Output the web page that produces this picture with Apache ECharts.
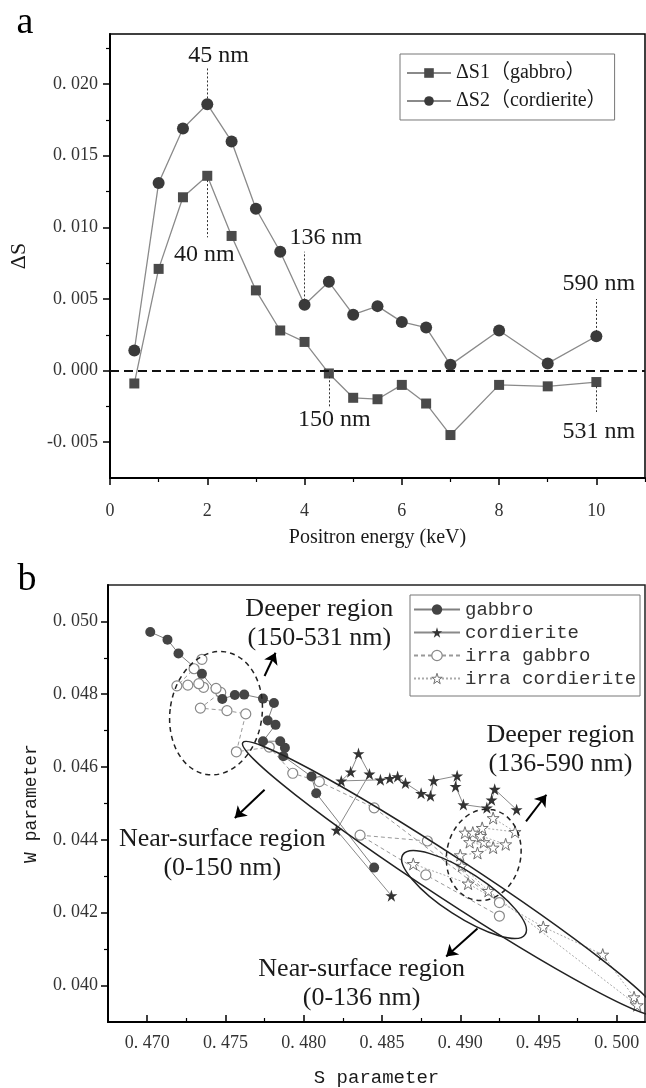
<!DOCTYPE html>
<html>
<head>
<meta charset="utf-8">
<title>ΔS and S-W plots</title>
<script src="https://cdn.jsdelivr.net/npm/echarts@6.0.0/dist/echarts.min.js"></script>
<style>
  html, body { margin: 0; padding: 0; background: #fff; }
  #chart { width: 646px; height: 1088px; }
</style>
</head>
<body>
<div id="chart"></div>
<script>
// ---- panel a: ΔS vs positron energy ----
const energy = [0.5, 1, 1.5, 2, 2.5, 3, 3.5, 4, 4.5, 5, 5.5, 6, 6.5, 7, 8, 9, 10]
const dS1 = [-0.0009, 0.0071, 0.0121, 0.0136, 0.0094, 0.0056, 0.0028, 0.0020, -0.0002, -0.0019, -0.0020, -0.0010, -0.0023, -0.0045, -0.0010, -0.0011, -0.0008]
const dS2 = [0.0014, 0.0131, 0.0169, 0.0186, 0.0160, 0.0113, 0.0083, 0.0046, 0.0062, 0.0039, 0.0045, 0.0034, 0.0030, 0.0004, 0.0028, 0.0005, 0.0024]
const dsTicks = [-0.005, 0, 0.005, 0.010, 0.015, 0.020]
const dsMinorTicks = [-0.0025, 0.0025, 0.0075, 0.0125, 0.0175, 0.0225]
const eTicks = [0, 2, 4, 6, 8, 10]
const eMinorTicks = [1, 3, 5, 7, 9, 11]

// ---- panel b: W vs S ----
const gabbroS = [0.4845, 0.4808, 0.4805, 0.4787, 0.4788, 0.4785, 0.4774, 0.4782, 0.4777, 0.4781, 0.4774, 0.4762, 0.4756, 0.4748, 0.4735, 0.4720, 0.4713, 0.4702]
const gabbroW = [0.04324, 0.04528, 0.04574, 0.04630, 0.04653, 0.04671, 0.04671, 0.04716, 0.04728, 0.04776, 0.04788, 0.04799, 0.04798, 0.04787, 0.04856, 0.04912, 0.04950, 0.04971]
const cordS = [0.4856, 0.4821, 0.4842, 0.4835, 0.4830, 0.4824, 0.4849, 0.4855, 0.4860, 0.4865, 0.4875, 0.4881, 0.4883, 0.4898, 0.4897, 0.4902, 0.4917, 0.4920, 0.4922, 0.4936]
const cordW = [0.04247, 0.04427, 0.04581, 0.04637, 0.04587, 0.04562, 0.04565, 0.04569, 0.04574, 0.04556, 0.04528, 0.04521, 0.04563, 0.04576, 0.04547, 0.04497, 0.04488, 0.04510, 0.04539, 0.04483]
const irraGabbroS = [0.4925, 0.4878, 0.4836, 0.4879, 0.4925, 0.4845, 0.4810, 0.4793, 0.4778, 0.4757, 0.4763, 0.4751, 0.4734, 0.4747, 0.4744, 0.4736, 0.4733, 0.4726, 0.4719, 0.4730, 0.4735]
const irraGabbroW = [0.04191, 0.04304, 0.04413, 0.04397, 0.04228, 0.04488, 0.04560, 0.04583, 0.04655, 0.04642, 0.04746, 0.04755, 0.04762, 0.04805, 0.04816, 0.04819, 0.04829, 0.04825, 0.04823, 0.04870, 0.04896]
const irraCordS = [0.4870, 0.4905, 0.4953, 0.4991, 0.5011, 0.5013, 0.4918, 0.4901, 0.4900, 0.4911, 0.4921, 0.4906, 0.4915, 0.4929, 0.4913, 0.4903, 0.4908, 0.4914, 0.4935, 0.4921]
const irraCordW = [0.04334, 0.04280, 0.04161, 0.04085, 0.03968, 0.03946, 0.04260, 0.04329, 0.04358, 0.04364, 0.04379, 0.04394, 0.04394, 0.04388, 0.04411, 0.04420, 0.04420, 0.04433, 0.04422, 0.04460]
const sTicks = [0.470, 0.475, 0.480, 0.485, 0.490, 0.495, 0.500]
const sMinorTicks = [0.4725, 0.4775, 0.4825, 0.4875, 0.4925, 0.4975]
const wTicks = [0.040, 0.042, 0.044, 0.046, 0.048, 0.050]
const wMinorTicks = [0.041, 0.043, 0.045, 0.047, 0.049]

const pairs = (xs, ys) => xs.map((x, i) => [x, ys[i]])
const serif = '"Liberation Serif", "Noto Sans CJK SC", serif'
const mono = '"Liberation Mono", monospace'
const ink = '#1a1a1a'
const star = 'path://M50,2 L61.8,38.2 L99.9,38.2 L69.1,60.6 L80.9,96.9 L50,74.5 L19.1,96.9 L30.9,60.6 L0.1,38.2 L38.2,38.2 Z'
const fmt3 = v => v.toFixed(3).replace('.', '. ')
const openStar = { color: '#fff', borderColor: '#707070', borderWidth: 1 }
const openCircle = { color: '#fff', borderColor: '#888', borderWidth: 1.2 }

// 主轴 + 次刻度轴（同一个grid叠放）
function axisPair (gridIndex, dim, opts) {
  const main = {
    type: 'value', gridIndex: gridIndex, min: opts.min, max: opts.max,
    position: dim === 'x' ? 'bottom' : 'left',
    name: opts.name, nameLocation: 'middle', nameGap: opts.nameGap,
    nameTextStyle: { fontFamily: opts.nameFont, fontSize: opts.nameSize, color: ink },
    axisLine: { show: true, onZero: false, lineStyle: { color: '#000', width: 2 } },
    axisTick: { show: true, inside: opts.inside, length: 7, customValues: opts.ticks, lineStyle: { color: '#000', width: 1.5 } },
    axisLabel: { customValues: opts.ticks, formatter: opts.fmt, margin: opts.margin, fontFamily: serif, fontSize: 18, color: '#333' },
    splitLine: { show: false }
  }
  const minor = {
    type: 'value', gridIndex: gridIndex, min: opts.min, max: opts.max,
    position: dim === 'x' ? 'bottom' : 'left', offset: 0,
    axisLine: { show: false, onZero: false },
    axisTick: { show: true, inside: opts.inside, length: 4, customValues: opts.minor, lineStyle: { color: '#000', width: 1.2 } },
    axisLabel: { show: false },
    splitLine: { show: false }
  }
  return [main, minor]
}

const option = {
  animation: false,
  backgroundColor: '#fff',
  grid: [
    { left: 108, top: 34, width: 537, height: 444, show: true, borderColor: '#000', borderWidth: 1.5, backgroundColor: 'transparent' },
    { left: 108, top: 585, width: 537, height: 443, show: true, borderColor: '#222', borderWidth: 1.5, backgroundColor: 'transparent' }
  ],
  xAxis: [
    ...axisPair(0, 'x', { min: 0, max: 11, ticks: eTicks, minor: eMinorTicks, inside: false, margin: 24, fmt: v => String(v), name: 'Positron energy (keV)', nameGap: 50, nameFont: serif, nameSize: 20 }),
    ...axisPair(1, 'x', { min: 0.4675, max: 0.5018, ticks: sTicks, minor: sMinorTicks, inside: true, margin: 12, fmt: fmt3, name: 'S parameter', nameGap: 46, nameFont: mono, nameSize: 19 })
  ],
  yAxis: [
    ...axisPair(0, 'y', { min: -0.0075, max: 0.0235, ticks: dsTicks, minor: dsMinorTicks, inside: false, margin: 12, fmt: fmt3, name: 'ΔS', nameGap: 80, nameFont: serif, nameSize: 22 }),
    ...axisPair(1, 'y', { min: 0.039, max: 0.051, ticks: wTicks, minor: wMinorTicks, inside: false, margin: 10, fmt: fmt3, name: 'W parameter', nameGap: 68, nameFont: mono, nameSize: 18 })
  ],
  legend: [
    {
      data: ['ΔS1（gabbro）', 'ΔS2（cordierite）'],
      orient: 'vertical', left: 400, top: 54, itemWidth: 44, itemHeight: 12, itemGap: 8,
      padding: [9, 8, 9, 6], borderColor: '#777', borderWidth: 1,
      textStyle: { fontFamily: serif, fontSize: 20, color: ink }
    },
    {
      data: [
        { name: 'gabbro' },
        { name: 'cordierite' },
        { name: 'irra gabbro', itemStyle: openCircle },
        { name: 'irra cordierite', itemStyle: openStar }
      ],
      orient: 'vertical', left: 410, top: 595, itemWidth: 46, itemHeight: 13, itemGap: 4,
      padding: [5, 4, 8, 3], borderColor: '#777', borderWidth: 1,
      textStyle: { fontFamily: mono, fontSize: 19, color: '#333' }
    }
  ],
  series: [
    {
      name: 'ΔS1（gabbro）', type: 'line', xAxisIndex: 0, yAxisIndex: 0,
      data: pairs(energy, dS1), symbol: 'rect', symbolSize: 10,
      itemStyle: { color: '#4a4a4a' }, lineStyle: { color: '#8a8a8a', width: 1.3 },
      markLine: {
        silent: true, symbol: ['none', 'none'], label: { show: false },
        data: [
          { yAxis: 0, lineStyle: { color: '#111', type: [9, 5], width: 2 } },
          [{ coord: [2, 0.0190] }, { coord: [2, 0.0211] }],
          [{ coord: [2, 0.0133] }, { coord: [2, 0.0093] }],
          [{ coord: [4, 0.0049] }, { coord: [4, 0.0083] }],
          [{ coord: [4.5, -0.0004] }, { coord: [4.5, -0.0025] }],
          [{ coord: [10, 0.0027] }, { coord: [10, 0.0050] }],
          [{ coord: [10, -0.0011] }, { coord: [10, -0.0029] }]
        ],
        lineStyle: { color: '#333', type: [2, 2], width: 1 }
      }
    },
    {
      name: 'ΔS2（cordierite）', type: 'line', xAxisIndex: 0, yAxisIndex: 0,
      data: pairs(energy, dS2), symbol: 'circle', symbolSize: 12,
      itemStyle: { color: '#3a3a3a' }, lineStyle: { color: '#8a8a8a', width: 1.3 }
    },
    {
      name: 'irra cordierite', type: 'line', xAxisIndex: 2, yAxisIndex: 2,
      data: pairs(irraCordS, irraCordW), symbol: star, symbolSize: 12,
      itemStyle: openStar,
      lineStyle: { color: '#aaa', type: [2, 2], width: 1 }
    },
    {
      name: 'irra gabbro', type: 'line', xAxisIndex: 2, yAxisIndex: 2,
      data: pairs(irraGabbroS, irraGabbroW), symbol: 'circle', symbolSize: 10,
      itemStyle: openCircle,
      lineStyle: { color: '#999', type: [4, 3], width: 1 }
    },
    {
      name: 'cordierite', type: 'line', xAxisIndex: 2, yAxisIndex: 2,
      data: pairs(cordS, cordW), symbol: star, symbolSize: 12,
      itemStyle: { color: '#333' }, lineStyle: { color: '#8a8a8a', width: 1 }
    },
    {
      name: 'gabbro', type: 'line', xAxisIndex: 2, yAxisIndex: 2,
      data: pairs(gabbroS, gabbroW), symbol: 'circle', symbolSize: 10,
      itemStyle: { color: '#444' }, lineStyle: { color: '#808080', width: 1 },
      markLine: {
        silent: true, symbol: ['none', 'arrow'], symbolSize: 11, label: { show: false },
        lineStyle: { color: '#000', type: 'solid', width: 2 },
        data: [
          [{ coord: [0.4775, 0.04850] }, { coord: [0.4782, 0.04914] }],
          [{ coord: [0.4942, 0.04451] }, { coord: [0.4955, 0.04524] }],
          [{ coord: [0.4775, 0.04538] }, { coord: [0.4756, 0.04460] }],
          [{ coord: [0.4911, 0.04157] }, { coord: [0.4891, 0.04080] }]
        ]
      }
    }
  ]
}

const chart = echarts.init(document.getElementById('chart'))
chart.setOption(option)

// 注释文字和椭圆（位置用数据坐标）
const notesA = [
  { text: '45 nm', at: [2.23, 0.0220] },
  { text: '40 nm', at: [1.94, 0.0081] },
  { text: '136 nm', at: [4.44, 0.0093] },
  { text: '150 nm', at: [4.61, -0.0034] },
  { text: '590 nm', at: [10.05, 0.0061] },
  { text: '531 nm', at: [10.05, -0.0043] }
]
const notesB = [
  { text: 'Deeper region\n(150-531 nm)', at: [0.4810, 0.04995] },
  { text: 'Deeper region\n(136-590 nm)', at: [0.4964, 0.04647] },
  { text: 'Near-surface region\n(0-150 nm)', at: [0.4748, 0.04363] },
  { text: 'Near-surface region\n(0-136 nm)', at: [0.4837, 0.04005] }
]
const ellipses = [
  { at: [0.4744, 0.04748], rx: 46, ry: 62, rot: -0.15, dash: true },
  { at: [0.4915, 0.04359], rx: 37, ry: 46, rot: -0.2, dash: true },
  { at: [0.48936, 0.04294], rx: 248, ry: 21, rot: -0.58, dash: false },
  { at: [0.49024, 0.04250], rx: 73, ry: 22, rot: -0.576, dash: false }
]
const pa = v => chart.convertToPixel({ xAxisIndex: 0, yAxisIndex: 0 }, v)
const pb = v => chart.convertToPixel({ xAxisIndex: 2, yAxisIndex: 2 }, v)
const graphics = [
  { type: 'text', x: 25, y: 23, style: { text: 'a', font: '38px "Liberation Serif"', fill: '#000', textAlign: 'center', textVerticalAlign: 'middle' } },
  { type: 'text', x: 27, y: 580, style: { text: 'b', font: '38px "Liberation Serif"', fill: '#000', textAlign: 'center', textVerticalAlign: 'middle' } }
]
notesA.forEach(n => {
  const p = pa(n.at)
  graphics.push({ type: 'text', x: p[0], y: p[1], style: { text: n.text, font: '24px "Liberation Serif"', fill: ink, textAlign: 'center', textVerticalAlign: 'middle' } })
})
notesB.forEach(n => {
  const p = pb(n.at)
  graphics.push({ type: 'text', x: p[0], y: p[1], style: { text: n.text, font: '26px "Liberation Serif"', fill: ink, textAlign: 'center', textVerticalAlign: 'middle', lineHeight: 29 } })
})
ellipses.forEach(e => {
  const p = pb(e.at)
  graphics.push({
    type: 'ellipse', x: p[0], y: p[1], rotation: e.rot, z: 10,
    shape: { cx: 0, cy: 0, rx: e.rx, ry: e.ry },
    style: { fill: 'none', stroke: '#222', lineWidth: 1.5, lineDash: e.dash ? [5, 4] : null }
  })
})
chart.setOption({ graphic: graphics })
</script>
</body>
</html>
